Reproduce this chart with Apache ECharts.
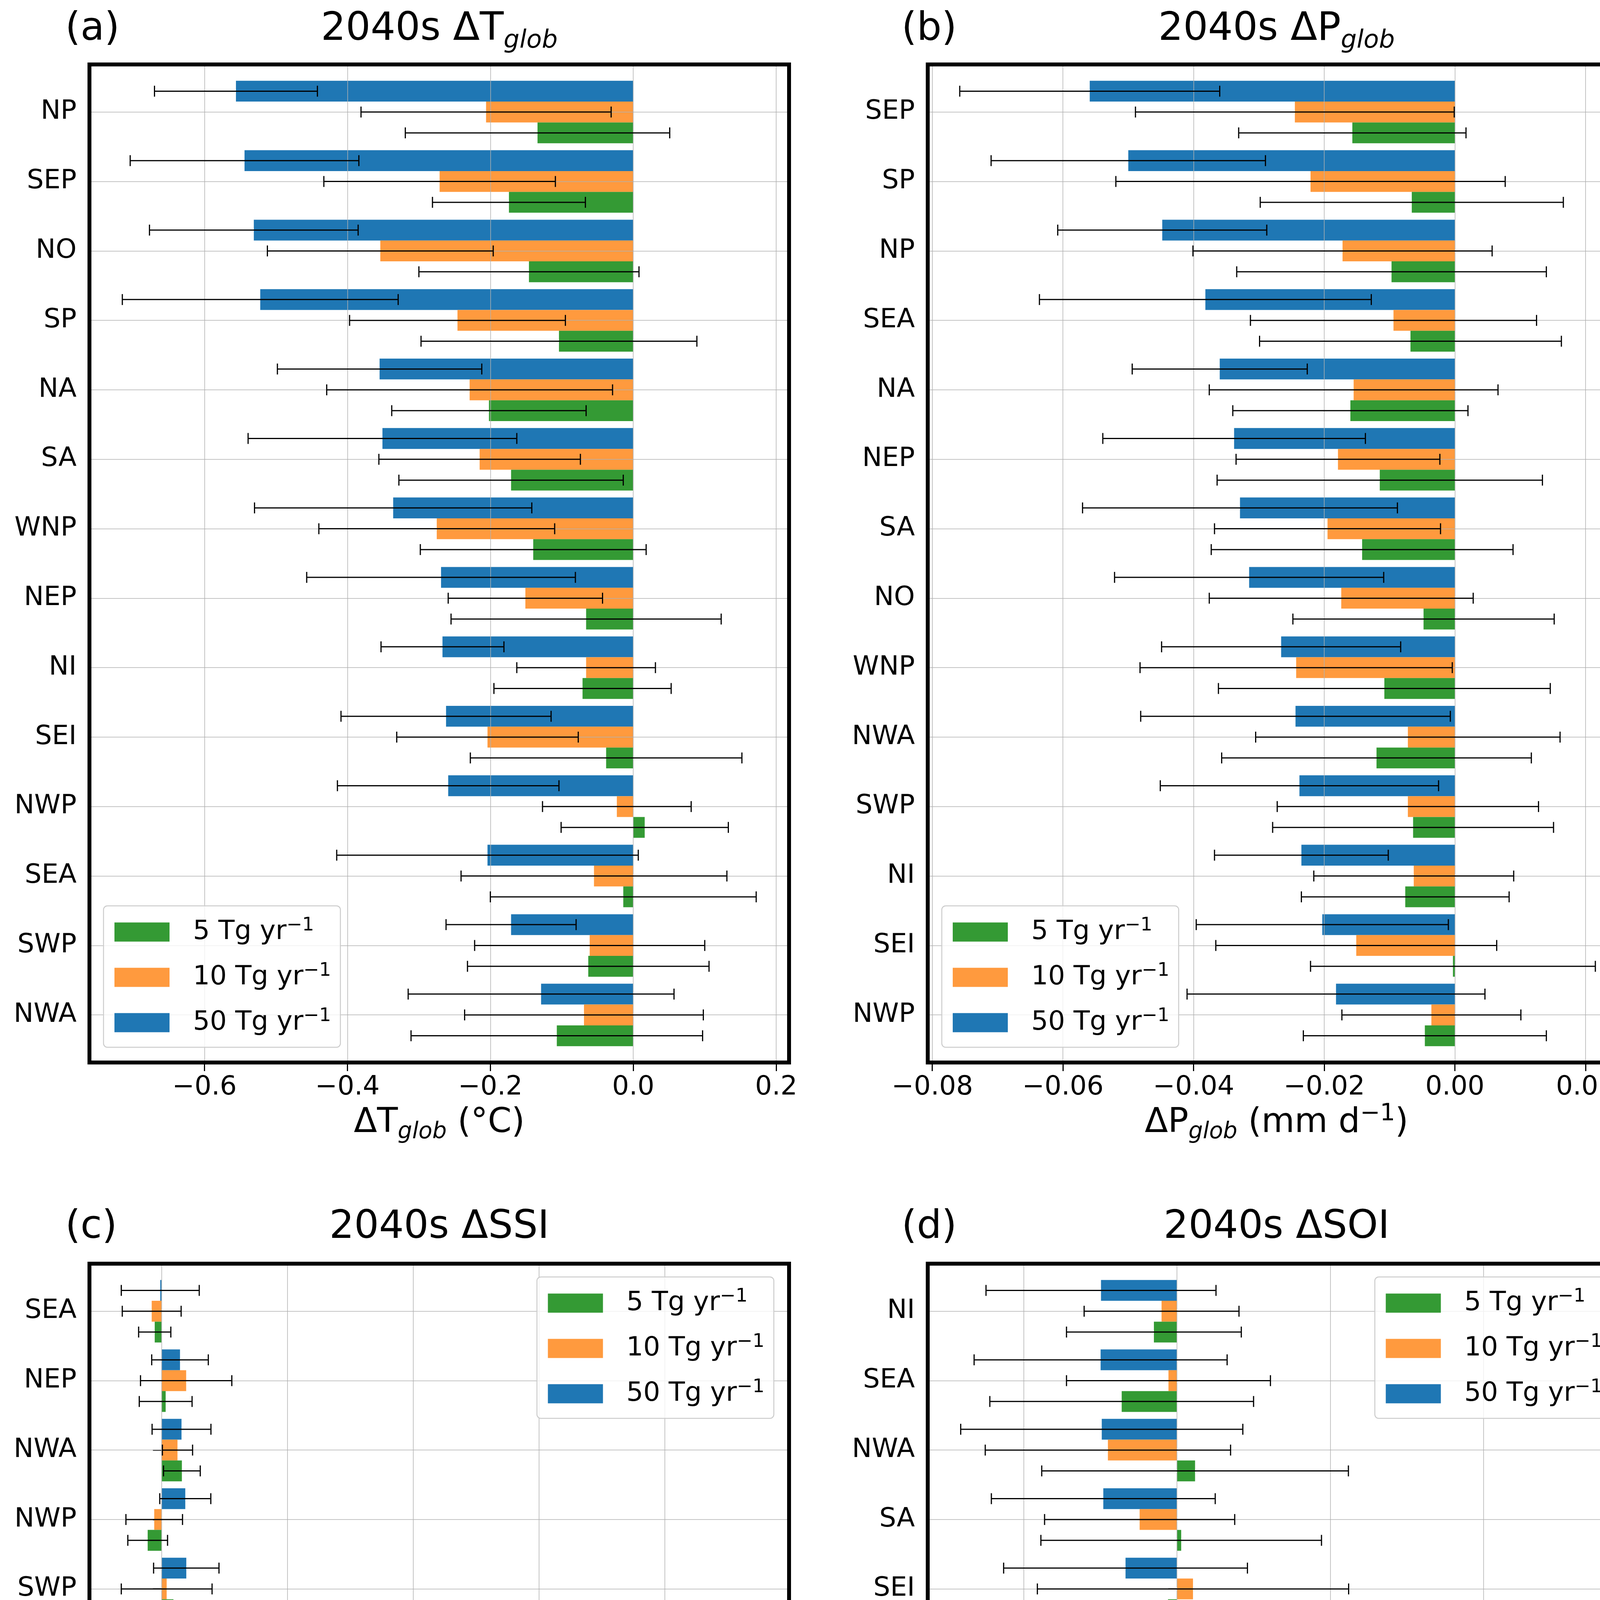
<!DOCTYPE html>
<html>
<head>
<meta charset="utf-8">
<title>2040s regional response</title>
<script src="https://cdn.jsdelivr.net/npm/echarts@6/dist/echarts.min.js"></script>
<style>
html, body { margin: 0; padding: 0; background: #fff; }
#main { width: 4204px; height: 6023px; }
</style>
</head>
<body>
<div id="main"></div>
<script>
// ---- data; errors are half widths of the error bars ----
var catsT = ['NP', 'SEP', 'NO', 'SP', 'NA', 'SA', 'WNP', 'NEP', 'NI', 'SEI', 'NWP', 'SEA', 'SWP', 'NWA'];
var dT50 = [-0.556, -0.544, -0.531, -0.522, -0.355, -0.351, -0.336, -0.269, -0.267, -0.262, -0.259, -0.204, -0.171, -0.129];
var dT50err = [0.114, 0.160, 0.146, 0.193, 0.143, 0.188, 0.194, 0.188, 0.086, 0.147, 0.155, 0.211, 0.091, 0.186];
var dT10 = [-0.206, -0.271, -0.354, -0.246, -0.229, -0.215, -0.275, -0.151, -0.066, -0.204, -0.023, -0.055, -0.061, -0.069];
var dT10err = [0.175, 0.162, 0.158, 0.151, 0.200, 0.141, 0.165, 0.108, 0.097, 0.127, 0.104, 0.186, 0.161, 0.167];
var dT5 = [-0.134, -0.174, -0.146, -0.104, -0.202, -0.171, -0.140, -0.066, -0.071, -0.038, 0.016, -0.014, -0.063, -0.107];
var dT5err = [0.185, 0.107, 0.154, 0.193, 0.136, 0.157, 0.158, 0.189, 0.124, 0.190, 0.117, 0.186, 0.169, 0.204];

var catsP = ['SEP', 'SP', 'NP', 'SEA', 'NA', 'NEP', 'SA', 'NO', 'WNP', 'NWA', 'SWP', 'NI', 'SEI', 'NWP'];
var dP50 = [-0.0559, -0.0500, -0.0448, -0.0382, -0.0360, -0.0338, -0.0329, -0.0315, -0.0266, -0.0244, -0.0238, -0.0235, -0.0203, -0.0182];
var dP50err = [0.0199, 0.0210, 0.0160, 0.0254, 0.0134, 0.0201, 0.0241, 0.0206, 0.0183, 0.0237, 0.0213, 0.0133, 0.0193, 0.0228];
var dP10 = [-0.0245, -0.0221, -0.0172, -0.0094, -0.0155, -0.0179, -0.0195, -0.0174, -0.0243, -0.0072, -0.0072, -0.0063, -0.0151, -0.0036];
var dP10err = [0.0244, 0.0298, 0.0229, 0.0219, 0.0221, 0.0156, 0.0173, 0.0202, 0.0239, 0.0233, 0.0200, 0.0153, 0.0215, 0.0137];
var dP5 = [-0.0157, -0.0066, -0.0097, -0.0068, -0.0160, -0.0115, -0.0142, -0.0048, -0.0108, -0.0120, -0.0064, -0.0076, -0.0003, -0.0046];
var dP5err = [0.0174, 0.0232, 0.0237, 0.0231, 0.0180, 0.0249, 0.0231, 0.0200, 0.0254, 0.0237, 0.0215, 0.0159, 0.0218, 0.0186];

var catsSSI = ['SEA', 'NEP', 'NWA', 'NWP', 'SWP', 'SA', 'NI', 'SEI', 'SP', 'NA', 'SEP', 'NP', 'WNP', 'NO'];
var ssi50 = [-0.010, 0.147, 0.159, 0.189, 0.197, 0.240, 0.295, 0.295, 0.306, 0.327, 0.366, 0.386, 0.406, 4.191];
var ssi50err = [0.310, 0.225, 0.234, 0.203, 0.260, 0.224, 0.300, 0.534, 0.363, 0.345, 0.282, 0.378, 0.288, 0.536];
var ssi10 = [-0.078, 0.196, 0.127, -0.058, 0.041, 0.002, -0.025, 0.577, 0.224, 0.119, 0.341, 0.467, 0.326, 1.766];
var ssi10err = [0.234, 0.363, 0.120, 0.225, 0.361, 0.195, 0.157, 0.634, 0.266, 0.197, 0.284, 0.646, 0.238, 0.621];
var ssi5 = [-0.054, 0.033, 0.162, -0.110, 0.095, 0.098, 0.175, -0.030, 0.003, 0.188, 0.356, 0.098, 0.136, 0.603];
var ssi5err = [0.128, 0.210, 0.146, 0.158, 0.224, 0.205, 0.244, 0.236, 0.229, 0.274, 0.461, 0.225, 0.199, 0.406];

var catsSOI = ['NI', 'SEA', 'NWA', 'SA', 'SEI', 'NA', 'NO', 'WNP', 'NP', 'NEP', 'SWP', 'NWP', 'SP', 'SEP'];
var soi50 = [-99, -99.5, -98, -96, -67, -64, -16, -1.4, 56, 59.4, 72, 76.5, 182, 376.5];
var soi50err = [150, 165, 184, 146, 159, 128, 113, 190, 131, 197, 100, 169, 207, 167];
var soi10 = [-20, -11, -90, -48.6, 21, -49.3, -46, 13, -55.8, 22.5, -11.5, 8.5, 60, 156.5];
var soi10err = [101, 133, 160, 124, 203, 138, 156, 198, 154, 108, 200, 119, 180, 244];
var soi5 = [-30, -72, 23.7, 5.6, -11.6, 11.1, -39.6, 33.4, -26, 33.6, 1.7, 0, -26.7, 79];
var soi5err = [114, 172, 200, 183, 188, 137, 161, 176, 155, 208, 195, 141, 197, 148];

var runNames = ['5', '10', '50'];

// ---- styling ----
var FONT = 'DejaVu Sans';
var runs = ['50', '10', '5'];                 // series order inside a group, top to bottom
var runColor = { '5': '#349a34', '10': '#ff9a3e', '50': '#1f77b4' };
var runSlot = { '50': -1, '10': 0, '5': 1 };  // offset in bar widths from the category centre
var yPad = 0.685;                             // gap between frame and first/last category, in bands
var gridColor = '#b0b0b0';

var panels = [
    {
        box: [229, 165, 1791, 2555], xlo: -0.761, xhi: 0.218, tick: [-0.6, 0.2, 0.2], dec: 1,
        cats: catsT, vals: { '5': dT5, '10': dT10, '50': dT50 }, errs: { '5': dT5err, '10': dT10err, '50': dT50err },
        letter: '(a)', letterX: 167, titleY: 76, labelY: 2875,
        title: '{m|2040s ΔT}{sub|glob}', xlabel: '{m|ΔT}{sub|glob}{m| (°C)}',
        legend: { left: 265, top: 2319 }
    },
    {
        box: [2375, 165, 1786, 2555], xlo: -0.0807, xhi: 0.0261, tick: [-0.08, 0.02, 0.02], dec: 2,
        cats: catsP, vals: { '5': dP5, '10': dP10, '50': dP50 }, errs: { '5': dP5err, '10': dP10err, '50': dP50err },
        letter: '(b)', letterX: 2308, titleY: 76, labelY: 2875,
        title: '{m|2040s ΔP}{sub|glob}', xlabel: '{m|ΔP}{sub|glob}{m| (mm d}{sup|−1}{m|)}',
        legend: { left: 2411, top: 2319 }
    },
    {
        box: [229, 3235, 1791, 2554], xlo: -0.573, xhi: 4.99, tick: [0, 4, 1], dec: 0,
        cats: catsSSI, vals: { '5': ssi5, '10': ssi10, '50': ssi50 }, errs: { '5': ssi5err, '10': ssi10err, '50': ssi50err },
        letter: '(c)', letterX: 167, titleY: 3143, labelY: 5947,
        title: '{m|2040s ΔSSI}', xlabel: '{m|ΔSSI (10}{sup|6}{m| km}{sup|−2}{m|)}',
        legend: { right: 2223, top: 3269 }
    },
    {
        box: [2375, 3235, 1786, 2554], xlo: -325, xhi: 585, tick: [-200, 400, 200], dec: 0,
        cats: catsSOI, vals: { '5': soi5, '10': soi10, '50': soi50 }, errs: { '5': soi5err, '10': soi10err, '50': soi50err },
        letter: '(d)', letterX: 2308, titleY: 3143, labelY: 5947,
        title: '{m|2040s ΔSOI}', xlabel: '{m|ΔSOI (Pa)}',
        legend: { right: 78, top: 3269 }
    }
];

function tok(size, lh, extra) {
    var s = { fontSize: size, lineHeight: lh, fontFamily: FONT, fill: '#000', color: '#000' };
    for (var k in extra) s[k] = extra[k];
    return s;
}

var titleRich = {
    m: tok(100, 122, { verticalAlign: 'middle' }),
    sub: tok(64, 78, { fontStyle: 'italic', verticalAlign: 'bottom' })
};
var labelRich = {
    m: tok(87, 106, { verticalAlign: 'middle' }),
    sub: tok(58, 66, { fontStyle: 'italic', verticalAlign: 'bottom' }),
    sup: tok(61, 68, { verticalAlign: 'top' })
};
var legendRich = {
    g: { width: 55 },
    m: tok(68, 80, { verticalAlign: 'middle' }),
    s: tok(48, 51, { verticalAlign: 'top' })
};

function tickFormatter(dec) {
    return function (v) {
        if (Math.abs(v) < 1e-9) v = 0;
        return v.toFixed(dec).replace('-', '\u2212');
    };
}

function renderErr(params, api) {
    var c = api.value(2);
    var a = api.coord([api.value(0), c]);
    var b = api.coord([api.value(1), c]);
    var band = api.size([0, 1])[1];
    var y = a[1] + api.value(3) * 0.3 * band;
    var cap = 14;
    var st = { stroke: '#000', lineWidth: 3 };
    return {
        type: 'group',
        children: [
            { type: 'line', shape: { x1: a[0], y1: y, x2: b[0], y2: y }, style: st },
            { type: 'line', shape: { x1: a[0], y1: y - cap, x2: a[0], y2: y + cap }, style: st },
            { type: 'line', shape: { x1: b[0], y1: y - cap, x2: b[0], y2: y + cap }, style: st }
        ]
    };
}

var option = {
    animation: false,
    backgroundColor: '#fff',
    textStyle: { fontFamily: FONT, color: '#000' },
    grid: [], xAxis: [], yAxis: [], series: [], legend: [], graphic: []
};

panels.forEach(function (p) {
    var l = p.box[0], t = p.box[1], w = p.box[2], h = p.box[3];
    var band = h / (13 + 2 * yPad);
    var span = p.xhi - p.xlo;
    var g = option.grid.length;

    // frame
    option.grid.push({ left: l, top: t, width: w, height: h, show: true, borderColor: '#000', borderWidth: 10,
        backgroundColor: 'transparent', z: 10, outerBoundsMode: 'none' });
    option.xAxis.push({ gridIndex: g, type: 'value', min: p.xlo, max: p.xhi, show: false });
    option.yAxis.push({ gridIndex: g, type: 'value', min: 0, max: 1, show: false });

    // x ticks, labels and vertical grid lines, spanning only the labelled ticks
    option.grid.push({ left: l + (p.tick[0] - p.xlo) / span * w, top: t,
        width: (p.tick[1] - p.tick[0]) / span * w, height: h, outerBoundsMode: 'none' });
    option.xAxis.push({
        gridIndex: g + 1, type: 'value', position: 'bottom', z: 3,
        min: p.tick[0], max: p.tick[1], interval: p.tick[2],
        axisLine: { show: false },
        axisTick: { show: true, length: 22, lineStyle: { color: '#000', width: 3 } },
        axisLabel: { fontSize: 68, color: '#000', fontFamily: FONT, margin: 30, formatter: tickFormatter(p.dec) },
        splitLine: { show: true, lineStyle: { color: gridColor, width: 1.5 } }
    });
    option.yAxis.push({ gridIndex: g + 1, type: 'value', min: 0, max: 1, show: false });

    // horizontal grid lines through category centres
    option.grid.push({ left: l, top: t + yPad * band, width: w, height: 13 * band, outerBoundsMode: 'none' });
    option.xAxis.push({ gridIndex: g + 2, type: 'value', min: p.xlo, max: p.xhi, show: false });
    option.yAxis.push({
        gridIndex: g + 2, type: 'value', min: 0, max: 13, interval: 1, z: 3,
        axisLine: { show: false }, axisTick: { show: false }, axisLabel: { show: false },
        splitLine: { show: true, lineStyle: { color: gridColor, width: 1.5 } }
    });

    // data
    option.grid.push({ left: l, top: t + (yPad - 0.5) * band, width: w, height: 14 * band, outerBoundsMode: 'none' });
    option.xAxis.push({ gridIndex: g + 3, type: 'value', min: p.xlo, max: p.xhi, show: false });
    option.yAxis.push({
        gridIndex: g + 3, type: 'category', data: p.cats, inverse: true, position: 'left',
        axisLine: { show: false },
        axisTick: { show: true, alignWithLabel: true, interval: 0, length: 22, lineStyle: { color: '#000', width: 3 } },
        axisLabel: { fontSize: 68, color: '#000', fontFamily: FONT, margin: 33, interval: 0 },
        splitLine: { show: false }
    });

    var errData = [];
    runs.forEach(function (r) {
        option.series.push({
            type: 'bar', name: r, xAxisIndex: g + 3, yAxisIndex: g + 3, data: p.vals[r],
            barWidth: '30%', barGap: '0%', itemStyle: { color: runColor[r] }, z: 2, silent: true
        });
        p.vals[r].forEach(function (v, i) {
            var e = p.errs[r][i];
            errData.push([v - e, v + e, i, runSlot[r]]);
        });
    });
    option.series.push({
        type: 'custom', name: 'err', xAxisIndex: g + 3, yAxisIndex: g + 3, data: errData,
        encode: { x: [0, 1], y: 2 }, renderItem: renderErr, z: 4, clip: false, silent: true
    });

    var lg = {
        orient: 'vertical', top: p.legend.top, data: runNames, icon: 'rect', z: 20,
        itemWidth: 141, itemHeight: 49, itemGap: 42, padding: [27, 24, 29, 28],
        backgroundColor: 'rgba(255,255,255,0.8)', borderColor: '#cccccc', borderWidth: 2.5, borderRadius: 10,
        selectedMode: false,
        formatter: function (n) { return '{g| }{m|' + n + ' Tg yr}{s|\u22121}'; },
        textStyle: { rich: legendRich }
    };
    if (p.legend.left != null) lg.left = p.legend.left; else lg.right = p.legend.right;
    option.legend.push(lg);

    option.graphic.push({ type: 'text', x: p.letterX, y: p.titleY,
        style: { text: p.letter, fontSize: 100, fontFamily: FONT, fill: '#000', align: 'left', verticalAlign: 'middle' } });
    option.graphic.push({ type: 'text', x: l + w / 2, y: p.titleY,
        style: { text: p.title, rich: titleRich, fill: '#000', align: 'center', verticalAlign: 'middle' } });
    option.graphic.push({ type: 'text', x: l + w / 2, y: p.labelY,
        style: { text: p.xlabel, rich: labelRich, fill: '#000', align: 'center', verticalAlign: 'middle' } });
});

var chart = echarts.init(document.getElementById('main'));
chart.setOption(option);
</script>
</body>
</html>
